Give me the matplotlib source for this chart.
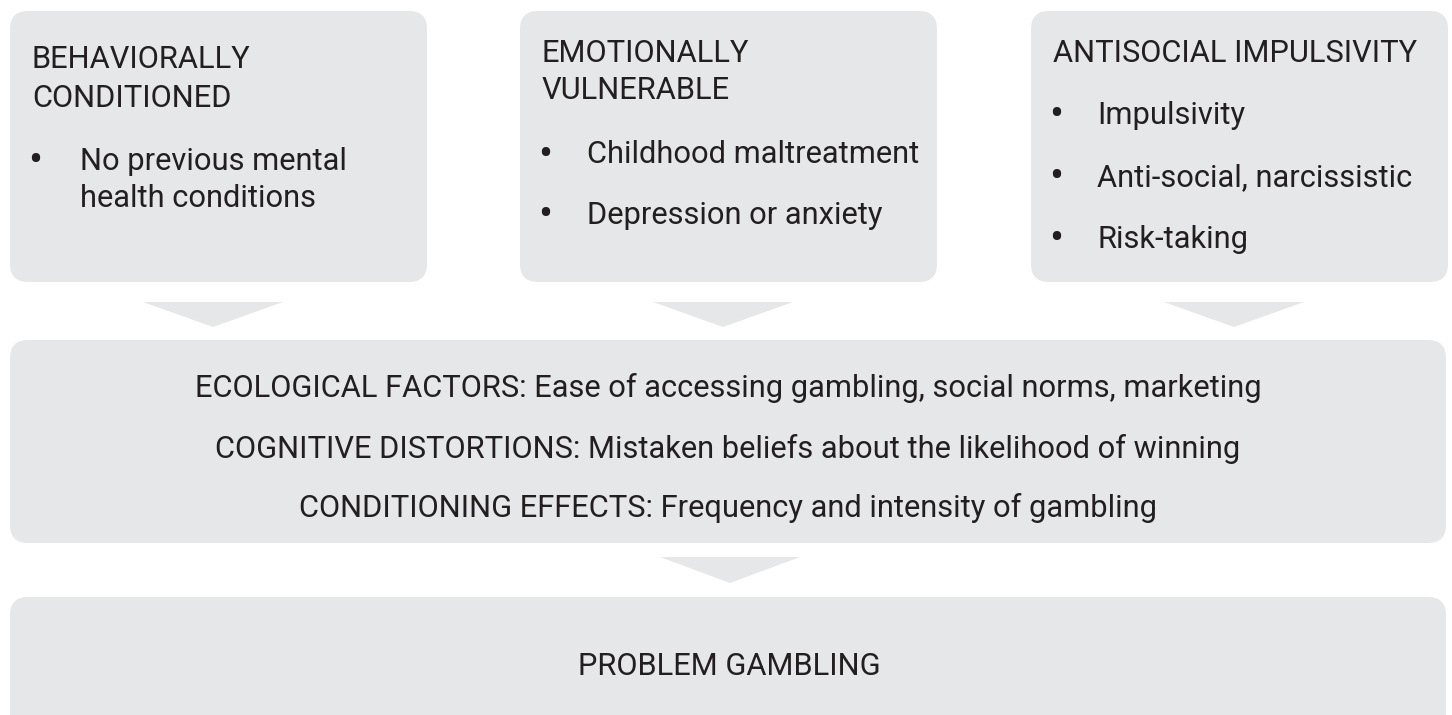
import matplotlib
matplotlib.use("Agg")
import matplotlib.pyplot as plt
from matplotlib.patches import FancyBboxPatch, Polygon

# texts
headers = [["BEHAVIORALLY", "CONDITIONED"],
           ["EMOTIONALLY", "VULNERABLE"],
           ["ANTISOCIAL IMPULSIVITY"]]
bullets = [["No previous mental\nhealth conditions"],
           ["Childhood maltreatment", "Depression or anxiety"],
           ["Impulsivity", "Anti-social, narcissistic", "Risk-taking"]]
middle_lines = ["ECOLOGICAL FACTORS: Ease of accessing gambling, social norms, marketing",
                "COGNITIVE DISTORTIONS: Mistaken beliefs about the likelihood of winning",
                "CONDITIONING EFFECTS: Frequency and intensity of gambling"]
outcome = "PROBLEM GAMBLING"

# layout (pixels)
box_x = [10, 520, 1031]
box_w = 417
header_base = [[68, 107], [62, 99], [62]]
bullet_base = [[170], [163, 224], [124, 186, 248]]
text_off = [70, 67, 66]
middle_base = [397, 458, 517]
wrap_gap = 37

BOX = "#e6e7e8"
TXT = "#231f20"
FONT = "Roboto"
FS = 22.2

fig = plt.figure(figsize=(14.52, 7.15), dpi=100)
ax = fig.add_axes([0, 0, 1, 1])
ax.set_xlim(0, 1452)
ax.set_ylim(715, 0)
ax.axis("off")

def rbox(x, y, w, h, r=18):
    ax.add_patch(FancyBboxPatch((x, y), w, h, boxstyle=f"round,pad=0,rounding_size={r}",
                                fc=BOX, ec="none"))

def arrow(cx, top, w=140, h=25):
    ax.add_patch(Polygon([(cx - w / 2, top), (cx + w / 2, top), (cx, top + h)],
                         closed=True, fc=BOX, ec="none"))

for i in range(3):
    x0 = box_x[i]
    rbox(x0, 11, box_w, 271)
    for txt, yb in zip(headers[i], header_base[i]):
        ax.text(x0 + 22, yb, txt, fontsize=FS, family=FONT, color=TXT, va="baseline")
    for txt, yb in zip(bullets[i], bullet_base[i]):
        ax.text(x0 + 25, yb - 8, "•", fontsize=30, family=FONT, color=TXT,
                ha="center", va="center")
        for k, line in enumerate(txt.split("\n")):
            ax.text(x0 + text_off[i], yb + k * wrap_gap, line, fontsize=FS, family=FONT,
                    color=TXT, va="baseline")
    arrow(x0 + 203, 302)

rbox(10, 340, 1436, 203)
for txt, yb in zip(middle_lines, middle_base):
    ax.text(728, yb, txt, fontsize=FS, family=FONT, color=TXT, ha="center", va="baseline")

arrow(730, 557, h=26)

rbox(10, 597, 1436, 140)
ax.text(729, 675, outcome, fontsize=FS, family=FONT, color=TXT, ha="center", va="baseline")

fig.savefig("out.png", dpi=100, facecolor="white")
